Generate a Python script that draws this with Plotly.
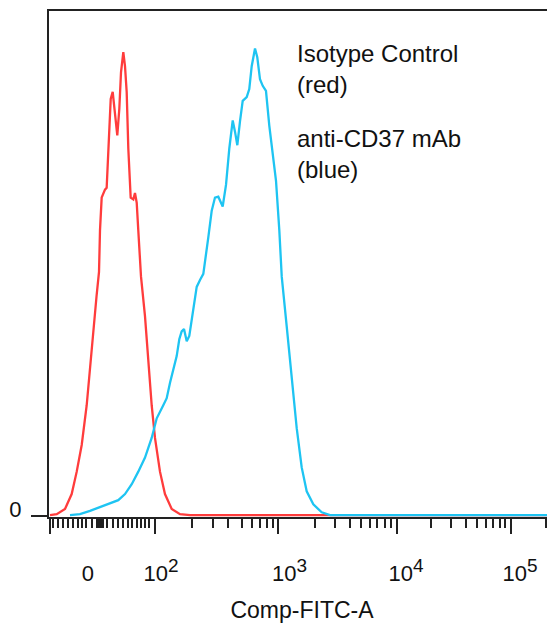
import plotly.graph_objects as go

# ---- data (display channel on a biexponential FITC scale, % of max) ----
red_x = [2.0, 15.6, 32.4, 45.9, 56.1, 66.2, 76.3, 83.0, 89.6, 96.1, 101.2, 103.2, 106.6,
         113.3, 116.7, 120.0, 124.9, 128.9, 133.6, 138.2, 142.3, 145.7, 150.4, 153.8,
         157.2, 160.5, 165.3, 170.6, 174.0, 177.5, 180.7, 186.2, 194.3, 201.0, 207.8,
         214.5, 224.6, 234.7, 248.3, 265.1, 285.4, 548.4, 1030.0]
red_y = [0.2, 0.4, 1.5, 4.7, 9.5, 15.2, 23.7, 32.1, 40.6, 46.9, 52.2, 61.1, 68.1,
         69.8, 70.2, 78.6, 89.2, 90.7, 86.5, 81.4, 87.1, 94.9, 99.2, 96.2,
         90.7, 78.6, 68.1, 67.7, 69.1, 67.0, 61.1, 51.2, 42.7, 33.6, 23.7,
         16.7, 9.5, 4.7, 1.5, 0.4, 0.2, 0.2, 0.2]

blue_x = [42.5, 62.7, 83.0, 103.2, 123.4, 140.2, 153.8, 167.4, 180.7, 194.3, 207.8, 218.0,
          231.3, 238.2, 244.9, 251.5, 258.4, 263.7, 268.5, 273.2, 278.7, 283.9, 292.0,
          298.9, 305.6, 312.3, 322.4, 329.3, 335.9, 342.6, 351.5, 358.2, 364.9, 371.8,
          376.4, 381.1, 386.5, 392.0, 400.1, 405.3, 410.2, 416.9, 421.5, 427.0, 432.5,
          439.1, 445.8, 452.7, 459.4, 466.1, 471.0, 481.0, 491.2, 501.3, 511.4, 521.5,
          534.9, 551.9, 568.7, 1030.0]
blue_y = [0.2, 0.4, 1.1, 1.9, 2.7, 3.4, 4.7, 6.8, 9.5, 12.5, 16.7, 20.9,
          23.7, 25.2, 28.5, 31.5, 34.2, 37.8, 39.5, 40.0, 37.4, 38.5, 44.2,
          49.0, 50.5, 51.8, 59.6, 65.3, 68.1, 68.3, 66.2, 70.8, 78.6, 84.6,
          82.2, 79.3, 84.4, 88.8, 89.6, 91.3, 96.2, 100.0, 98.1, 93.4, 92.0,
          90.9, 83.5, 78.0, 71.7, 61.1, 51.2, 40.6, 30.0, 18.8, 10.4, 5.3,
          2.5, 0.8, 0.2, 0.2]

# axis ticks (display channel positions)
major_ticks = [3.0, 213.5, 464.4, 704.2, 935.0]
minor_ticks = [8.7, 18.8, 28.9, 39.1, 49.2, 59.3, 67.4, 74.9, 86.4, 97.1, 101.2, 105.2,
               109.3, 116.8, 130.1, 140.2, 150.4, 160.5, 168.6, 177.5, 186.2, 194.3, 202.4,
               288.8, 331.9, 362.2, 390.6, 410.8, 427.0, 441.2, 453.3,
               538.3, 578.8, 609.1, 630.8, 649.6, 663.8, 680.0, 691.5,
               774.0, 814.5, 843.8, 866.1, 884.3, 898.5, 911.7, 923.8, 1005.8]
label_pos = [78.9, 226.6, 486.7, 722.4, 953.1]
label_exp = ["2", "3", "4", "5"]
label_text = ["0"] + ["10<sup><span style='font-size:19px'>%s</span></sup>" % e
                      for e in label_exp]

x_range = [0, 1024]
y_range = [-0.2, 108.0]

FONT = "Liberation Sans, Arial, sans-serif"
AX = "#222222"
RED = "#ff3c3c"
BLUE = "#1ec4f2"

fig = go.Figure()
fig.add_trace(go.Scatter(x=red_x, y=red_y, mode="lines", name="Isotype Control",
                         line=dict(color=RED, width=2.3), showlegend=False))
fig.add_trace(go.Scatter(x=blue_x, y=blue_y, mode="lines", name="anti-CD37 mAb",
                         line=dict(color=BLUE, width=2.3), showlegend=False))
# invisible trace to activate the label axis
fig.add_trace(go.Scatter(x=[x_range[0]], y=[0], xaxis="x2", mode="markers",
                         marker=dict(opacity=0), showlegend=False, hoverinfo="skip"))

fig.update_layout(
    width=547, height=615,
    margin=dict(l=41, r=0, t=3, b=100),
    paper_bgcolor="white", plot_bgcolor="white",
    font=dict(family=FONT, color="#111111"),
    xaxis=dict(range=x_range, showgrid=False, zeroline=False,
               showline=True, linecolor=AX, linewidth=2, mirror=True,
               tickmode="array", tickvals=major_ticks, showticklabels=False,
               ticks="outside", ticklen=15, tickwidth=2, tickcolor=AX,
               minor=dict(tickmode="array", tickvals=minor_ticks, ticks="outside",
                          ticklen=9, tickwidth=1.5, tickcolor=AX, showgrid=False),
               layer="below traces"),
    xaxis2=dict(range=x_range, overlaying="x", anchor="y", side="bottom",
                showgrid=False, zeroline=False, showline=False,
                tickmode="array", tickvals=label_pos, ticktext=label_text,
                ticks="", ticklabelstandoff=41,
                tickfont=dict(family=FONT, size=22, color="#111111"),
                title=dict(text="Comp-FITC-A", standoff=21,
                           font=dict(family=FONT, size=23, color="#111111"))),
    yaxis=dict(range=y_range, showgrid=False, zeroline=False,
               showline=True, linecolor=AX, linewidth=2,
               tickmode="array", tickvals=[0], ticktext=["0"],
               ticks="outside", ticklen=16, tickwidth=2, tickcolor=AX,
               ticklabelshift=-7, ticklabelstandoff=5,
               tickfont=dict(family=FONT, size=22, color="#111111"),
               layer="below traces"),
    annotations=[
        dict(text="Isotype Control<br>(red)", xref="paper", yref="paper",
             x=0.486, y=0.947, xanchor="left", yanchor="top", align="left",
             showarrow=False, font=dict(family=FONT, size=24, color="#111111")),
        dict(text="anti-CD37 mAb<br>(blue)", xref="paper", yref="paper",
             x=0.486, y=0.779, xanchor="left", yanchor="top", align="left",
             showarrow=False, font=dict(family=FONT, size=24, color="#111111")),
    ],
)

fig.write_html("out.html")
